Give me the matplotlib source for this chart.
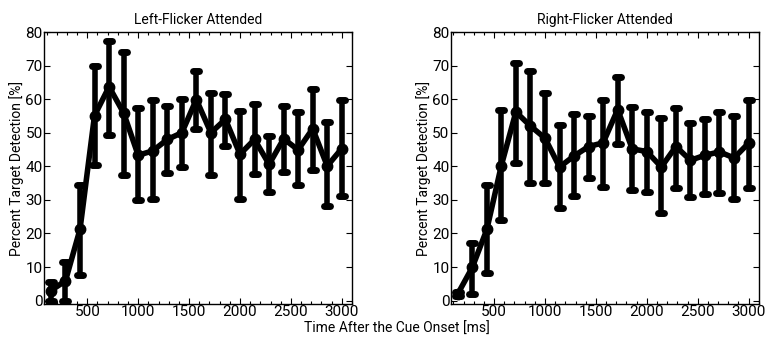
import matplotlib
matplotlib.use('Agg')
import matplotlib.pyplot as plt
import numpy as np
from matplotlib.markers import MarkerStyle
from matplotlib.ticker import MultipleLocator

plt.rcParams['font.family'] = ['Roboto', 'DejaVu Sans']

# cue-to-target delays (ms)
times = [143, 286, 429, 571, 714, 857, 1000, 1143, 1286, 1429, 1571,
         1714, 1857, 2000, 2143, 2286, 2429, 2571, 2714, 2857, 3000]

# Left-Flicker Attended: mean, lower end, upper end of error bar
left_mean = [3.0, 5.9, 21.3, 55.1, 63.7, 55.9, 43.3, 44.6, 48.0, 50.0, 59.9,
             50.0, 54.0, 43.6, 48.0, 40.6, 48.2, 44.9, 51.2, 40.1, 45.3]
left_low = [0.0, 0.0, 7.7, 40.4, 49.2, 37.3, 30.0, 30.2, 37.9, 39.9, 51.0,
            37.3, 46.0, 30.2, 37.6, 32.4, 38.3, 34.4, 38.9, 28.2, 31.2]
left_high = [5.6, 11.4, 34.5, 70.0, 77.4, 74.0, 57.4, 59.9, 58.1, 60.1, 68.5,
             61.7, 61.4, 56.4, 58.6, 49.0, 57.9, 56.1, 63.0, 53.2, 59.9]

# Right-Flicker Attended
right_mean = [2.0, 9.9, 21.2, 40.2, 56.2, 52.0, 48.4, 39.8, 43.1, 45.9, 47.0,
              56.9, 45.2, 44.4, 39.8, 45.9, 41.8, 43.3, 44.3, 42.5, 46.9]
right_low = [1.3, 2.0, 8.2, 24.0, 41.1, 34.9, 34.9, 27.7, 31.2, 36.4, 33.9,
             46.7, 33.0, 32.4, 26.1, 33.4, 30.9, 31.9, 32.2, 30.2, 33.6]
right_high = [2.6, 17.1, 34.4, 56.7, 70.8, 68.5, 61.7, 52.2, 55.6, 55.0, 59.8,
              66.5, 57.6, 56.1, 54.5, 57.3, 53.0, 54.0, 56.3, 55.1, 59.9]

titles = ['Left-Flicker Attended', 'Right-Flicker Attended']
series = [(left_mean, left_low, left_high), (right_mean, right_low, right_high)]

fig = plt.figure(figsize=(7.68, 3.38), dpi=100)
ax_rects = [[0.0573, 0.1006, 0.401, 0.8047], [0.587, 0.1006, 0.401, 0.8047]]

for rect, title, (m, lo, hi) in zip(ax_rects, titles, series):
    ax = fig.add_axes(rect)
    m = np.array(m)
    yerr = [m - np.array(lo), np.array(hi) - m]
    line, caps, bars = ax.errorbar(times, m, yerr=yerr, color='black', lw=4,
                                   elinewidth=4, marker='o', markersize=7.5,
                                   capsize=2.2, capthick=5,
                                   solid_capstyle='round', solid_joinstyle='round')
    # rounded cap ends like the original
    for c in caps:
        c.set_marker(MarkerStyle('_', capstyle='round'))
    ax.set_xlim(75, 3100)
    ax.set_ylim(-1, 80)
    ax.set_xticks([500, 1000, 1500, 2000, 2500, 3000])
    ax.xaxis.set_minor_locator(MultipleLocator(100))
    ax.set_yticks(range(0, 81, 10))
    ax.tick_params(direction='in', top=True, right=True, labelsize=11,
                   length=4, width=0.8, pad=1)
    ax.tick_params(which='minor', direction='in', top=True, length=2, width=0.8)
    for s in ax.spines.values():
        s.set_linewidth(1.0)
    ax.set_title(title, fontsize=10, pad=6)
    ax.set_ylabel('Percent Target Detection [%]', fontsize=10, labelpad=1)

fig.text(0.517, 0.028, 'Time After the Cue Onset [ms]', ha='center', va='center',
         fontsize=10)

plt.savefig('out.png', dpi=100)
plt.close()
